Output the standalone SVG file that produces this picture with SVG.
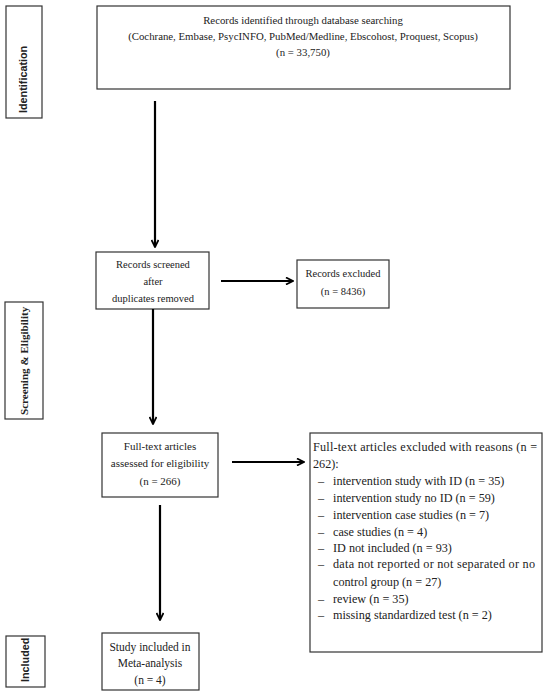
<svg xmlns="http://www.w3.org/2000/svg" width="550" height="697" viewBox="0 0 550 697">
<defs>
<marker id="ah" viewBox="0 0 10 10" refX="9" refY="5" markerWidth="4" markerHeight="4" orient="auto" markerUnits="strokeWidth">
<path d="M1,1 L9,5 L1,9" fill="none" stroke="#000" stroke-width="2"/>
</marker>
<style>
.box{fill:#fff;stroke:#333;stroke-width:1.2}
.t{font-family:"Liberation Serif","DejaVu Serif",serif;font-size:10.5px;fill:#222}
.l{font-size:12.2px}
.m{text-anchor:middle}
.side{font-family:"Liberation Sans","DejaVu Sans",sans-serif;font-weight:bold;font-size:10.8px;fill:#222}
.sides{font-family:"Liberation Serif","DejaVu Serif",serif;font-weight:bold;font-size:11.1px;fill:#222}
.c{stroke:#000;stroke-width:2.2;fill:none;marker-end:url(#ah)}
</style>
</defs>
<rect width="550" height="697" fill="#fff"/>
<g id="side-identification">
<rect class="box" x="6" y="6" width="36" height="112"/>
<text class="side" transform="translate(27,113) rotate(-90)">Identification</text>
</g>
<g id="side-screening">
<rect class="box" x="5" y="302" width="38" height="117"/>
<text class="sides" transform="translate(28,415) rotate(-90)">Screening &amp; Eligibility</text>
</g>
<g id="side-included">
<rect class="box" x="6" y="636" width="39" height="51"/>
<text class="side" transform="translate(29,682) rotate(-90)">Included</text>
</g>
<g id="n-identified">
<rect class="box" x="97" y="6" width="413" height="83"/>
<text class="t m" style="font-size:10.8px" x="303" y="24">Records identified through database searching</text>
<text class="t m" style="font-size:10.8px" x="303" y="40">(Cochrane, Embase, PsycINFO, PubMed/Medline, Ebscohost, Proquest, Scopus)</text>
<text class="t m" style="font-size:10.8px" x="303" y="56">(n = 33,750)</text>
</g>
<g id="n-screened">
<rect class="box" x="96" y="252" width="113" height="57"/>
<text class="t m" x="153" y="268">Records screened</text>
<text class="t m" x="153" y="285">after</text>
<text class="t m" x="153" y="302">duplicates removed</text>
</g>
<g id="n-excluded">
<rect class="box" x="297" y="260" width="92" height="48"/>
<text class="t m" x="343" y="277">Records excluded</text>
<text class="t m" x="343" y="295">(n = 8436)</text>
</g>
<g id="n-fulltext">
<rect class="box" x="102" y="433" width="116" height="64"/>
<text class="t m" style="font-size:11px" x="160" y="450">Full-text articles</text>
<text class="t m" style="font-size:11px" x="160" y="467">assessed for eligibility</text>
<text class="t m" style="font-size:11px" x="160" y="485">(n = 266)</text>
</g>
<g id="n-ftexcluded">
<rect class="box" x="310" y="433" width="232" height="219"/>
<text class="t l" x="313" y="451" textLength="224" lengthAdjust="spacing">Full-text articles excluded with reasons (n =</text>
<text class="t l" x="313" y="468">262):</text>
<text class="t l" x="318" y="485">–</text><text class="t l" x="333" y="485">intervention study with ID (n = 35)</text>
<text class="t l" x="318" y="502">–</text><text class="t l" x="333" y="502">intervention study no ID (n = 59)</text>
<text class="t l" x="318" y="519">–</text><text class="t l" x="333" y="519">intervention case studies (n = 7)</text>
<text class="t l" x="318" y="536">–</text><text class="t l" x="333" y="536">case studies (n = 4)</text>
<text class="t l" x="318" y="552">–</text><text class="t l" x="333" y="552">ID not included (n = 93)</text>
<text class="t l" x="318" y="568">–</text><text class="t l" x="333" y="568" textLength="202" lengthAdjust="spacing">data not reported or not separated or no</text>
<text class="t l" x="333" y="586">control group (n = 27)</text>
<text class="t l" x="318" y="603">–</text><text class="t l" x="333" y="603">review (n = 35)</text>
<text class="t l" x="318" y="619">–</text><text class="t l" x="333" y="619">missing standardized test (n = 2)</text>
</g>
<g id="n-included">
<rect class="box" x="102" y="633" width="97" height="57"/>
<text class="t m" style="font-size:11.5px" x="150" y="651">Study included in</text>
<text class="t m" style="font-size:11.5px" x="150" y="667">Meta-analysis</text>
<text class="t m" style="font-size:11.5px" x="150" y="684">(n = 4)</text>
</g>
<g id="connectors">
<line class="c" x1="155" y1="101" x2="155" y2="247"/>
<line class="c" x1="221" y1="281" x2="293" y2="281"/>
<line class="c" x1="153" y1="309" x2="153" y2="424"/>
<line class="c" x1="232" y1="462" x2="304" y2="462"/>
<line class="c" x1="160" y1="505" x2="160" y2="620"/>
</g>
</svg>
